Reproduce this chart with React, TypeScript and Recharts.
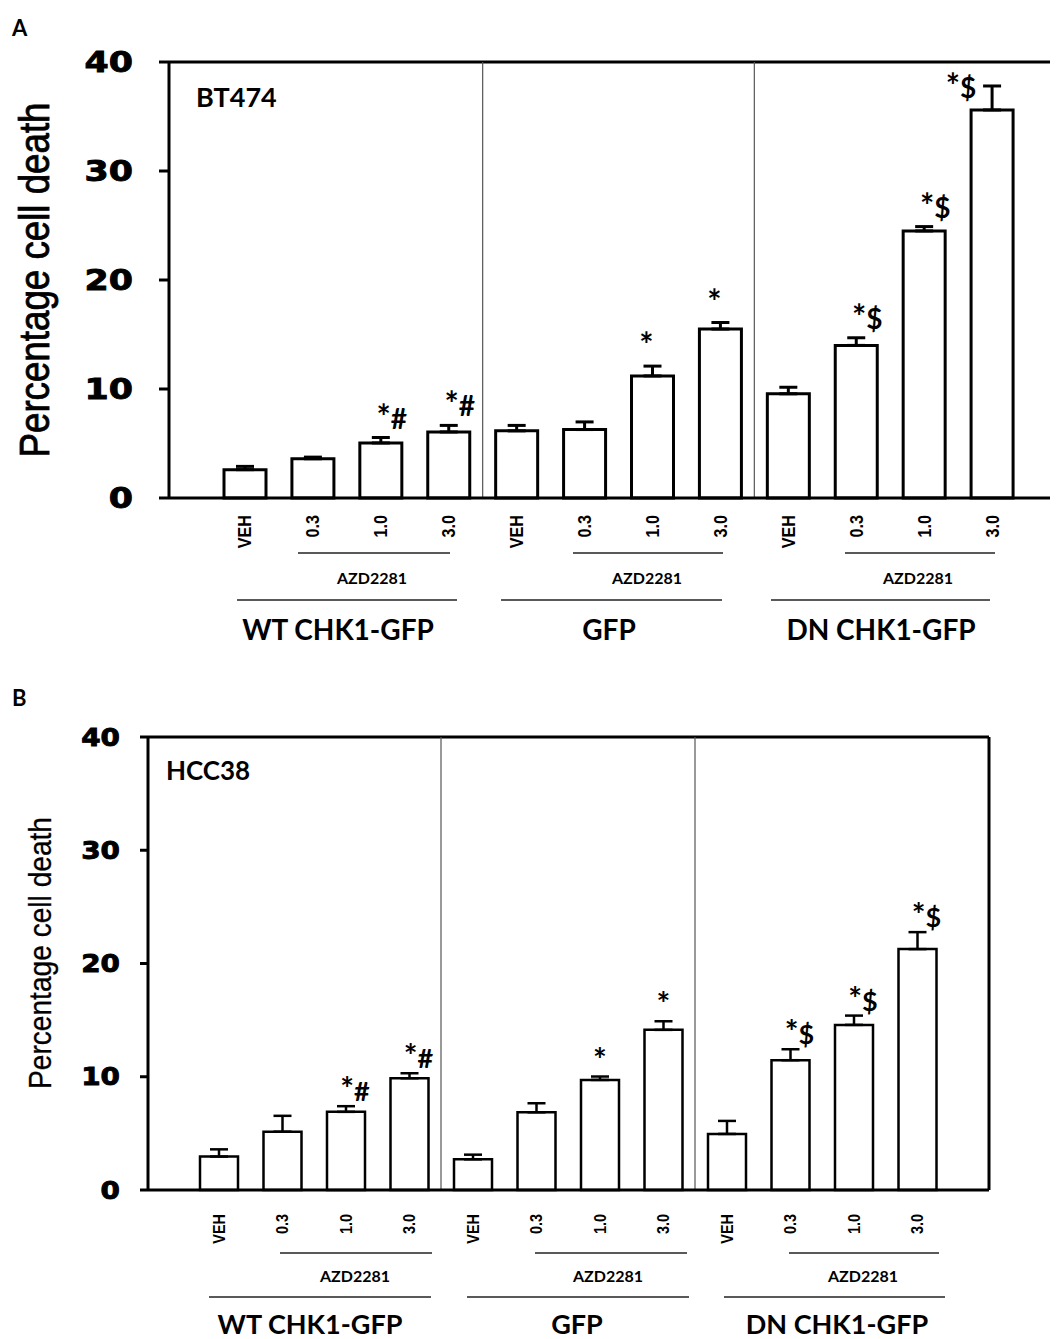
import { BarChart, Bar, XAxis, YAxis, ErrorBar, LabelList, ReferenceLine } from 'recharts'

const categories = ['WT-VEH', 'WT-0.3', 'WT-1.0', 'WT-3.0', 'GFP-VEH', 'GFP-0.3', 'GFP-1.0', 'GFP-3.0', 'DN-VEH', 'DN-0.3', 'DN-1.0', 'DN-3.0']
const doseLabels = ['VEH', '0.3', '1.0', '3.0', 'VEH', '0.3', '1.0', '3.0', 'VEH', '0.3', '1.0', '3.0']
const groupNames = ['WT CHK1-GFP', 'GFP', 'DN CHK1-GFP']
const drugName = 'AZD2281'
const yTicks = [0, 10, 20, 30, 40]

// BT474 (panel A)
const bt474Values = [2.6, 3.6, 5.05, 6.06, 6.16, 6.28, 11.2, 15.5, 9.56, 14.0, 24.5, 35.6]
const bt474Errors = [0.3, 0.15, 0.5, 0.6, 0.5, 0.7, 0.9, 0.6, 0.6, 0.7, 0.4, 2.2]
const bt474Marks = ['', '', '*#', '*#', '', '', '*', '*', '', '*$', '*$', '*$']

// HCC38 (panel B)
const hcc38Values = [2.95, 5.15, 6.9, 9.87, 2.71, 6.86, 9.72, 14.14, 4.95, 11.46, 14.58, 21.27]
const hcc38Errors = [0.64, 1.4, 0.5, 0.44, 0.41, 0.8, 0.3, 0.76, 1.15, 0.97, 0.82, 1.5]
const hcc38Marks = ['', '', '*#', '*#', '', '', '*', '*', '', '*$', '*$', '*$']

const LATO = 'Lato, "Open Sans", sans-serif'
const ARIAL = '"Liberation Sans", Arial, sans-serif'

function makeRows(values: number[], errors: number[], marks: string[]) {
  return categories.map((c, i) => ({
    cat: c,
    value: values[i],
    err: [0, errors[i]],
    errVal: errors[i],
    mark: marks[i],
  }))
}

function Panel({ top, rows, cfg }: any) {
  const DoseTick = (p: any) => {
    const i = categories.indexOf(p.payload.value)
    return (
      <text
        transform={`translate(${p.x},${p.y + cfg.tickGap}) rotate(-90) scale(0.85,1)`}
        textAnchor="end"
        dominantBaseline="central"
        fontFamily={ARIAL}
        fontWeight="bold"
        fontSize={cfg.tickFont}
        fill="#000"
      >
        {doseLabels[i]}
      </text>
    )
  }

  const ValueTick = (p: any) => (
    <text
      transform={`translate(${p.x},${p.y}) scale(${cfg.yScaleX},1)`}
      textAnchor="end"
      dy="0.36em"
      fontFamily='"DejaVu Sans", sans-serif'
      fontWeight="bold"
      fontSize={cfg.yFont}
      fill="#000"
      stroke="#000"
      strokeWidth={0.9}
    >
      {p.payload.value}
    </text>
  )

  const renderMark = (p: any) => {
    const vb = p.viewBox || p
    const idx = p.index
    const row = rows[idx]
    if (!row || !row.mark) return null
    const errPx = (row.errVal * vb.height) / row.value
    const errTop = vb.y - errPx
    let dx = row.mark === '*' ? cfg.starDx : cfg.comboDx
    let by = errTop - cfg.markGap
    if (cfg.sideLabelIndex === idx) {
      dx = -31
      by = errTop + 12
    }
    return (
      <text
        x={vb.x + vb.width / 2 + dx}
        y={by}
        textAnchor="middle"
        fontFamily={LATO}
        fontWeight="bold"
        fontSize={cfg.markFont}
        fill="#000"
      >
        <tspan fontSize={cfg.markFont * 1.2}>*</tspan>
        {row.mark.slice(1)}
      </text>
    )
  }

  return (
    <div style={{ position: 'absolute', left: 0, top }}>
      <BarChart
        width={1050}
        height={cfg.height}
        data={rows}
        margin={{ top: cfg.mTop, right: 0, bottom: 0, left: 0 }}
      >
        <XAxis
          dataKey="cat"
          height={cfg.xH}
          padding={{ left: cfg.padL, right: cfg.padR }}
          axisLine={{ stroke: '#000', strokeWidth: 3 }}
          tickLine={false}
          tickSize={0}
          tickMargin={0}
          interval={0}
          tick={<DoseTick />}
        />
        <YAxis
          domain={[0, 40]}
          ticks={yTicks}
          width={cfg.yW}
          axisLine={{ stroke: '#000', strokeWidth: 3 }}
          tickLine={{ stroke: '#000', strokeWidth: 3 }}
          tickSize={cfg.tickLen}
          tickMargin={cfg.yTickMargin}
          tick={<ValueTick />}
        />
        {cfg.box && (
          <YAxis
            yAxisId="r"
            orientation="right"
            domain={[0, 40]}
            width={cfg.rightW}
            tick={false}
            tickLine={false}
            axisLine={{ stroke: '#000', strokeWidth: 3 }}
          />
        )}
        <ReferenceLine y={40} stroke="#000" strokeWidth={3} />
        <ReferenceLine x="WT-3.0" position="end" stroke="#555" strokeWidth={1.2} />
        <ReferenceLine x="GFP-3.0" position="end" stroke="#555" strokeWidth={1.2} />
        <Bar
          dataKey="value"
          barSize={cfg.barSize}
          fill="#fff"
          stroke="#000"
          strokeWidth={cfg.barStroke}
          isAnimationActive={false}
        >
          <ErrorBar dataKey="err" direction="y" width={9} stroke="#000" strokeWidth={cfg.barStroke} />
          <LabelList dataKey="mark" content={renderMark} />
        </Bar>
      </BarChart>
    </div>
  )
}

const cfgA = {
  height: 560, mTop: 54, xH: 70, yW: 161, padL: 42, padR: 32,
  barSize: 42, barStroke: 3, tickLen: 10, yTickMargin: 26, yFont: 29, yScaleX: 1.2,
  tickFont: 19, tickGap: 17, markFont: 28, markGap: 9, starDx: -6, comboDx: 11,
  sideLabelIndex: 11, box: false, rightW: 0,
}

const cfgB = {
  height: 580, mTop: 49, xH: 78, yW: 140, padL: 39, padR: 40,
  barSize: 38, barStroke: 2.5, tickLen: 8, yTickMargin: 20, yFont: 24, yScaleX: 1.16,
  tickFont: 17, tickGap: 24, markFont: 27, markGap: 5, starDx: 0, comboDx: 9,
  sideLabelIndex: -1, box: true, rightW: 69,
}

function Annotations() {
  const line = { stroke: '#222', strokeWidth: 1.5 }
  const azdA = [[298, 450, 372], [573, 723, 647], [845, 995, 918]]
  const grpA = [[237, 457, 338], [501, 722, 609], [771, 990, 881]]
  const azdB = [[280, 432, 355], [535, 687, 608], [789, 939, 863]]
  const grpB = [[209, 431, 310], [467, 689, 577], [724, 945, 837]]
  return (
    <svg
      width={1058}
      height={1339}
      style={{ position: 'absolute', left: -8, top: -8, pointerEvents: 'none', overflow: 'visible' }}
    >
      <text x={12} y={36} fontFamily={LATO} fontWeight="bold" fontSize={22}>A</text>
      <text x={12} y={706} fontFamily={LATO} fontWeight="bold" fontSize={22}>B</text>
      <text x={196} y={107} fontFamily={LATO} fontWeight="bold" fontSize={27}>BT474</text>
      <text x={166} y={780} fontFamily={LATO} fontWeight="bold" fontSize={26}>HCC38</text>

      <text
        transform="translate(34,280) rotate(-90)"
        textAnchor="middle"
        dominantBaseline="central"
        fontFamily={ARIAL}
        fontSize={42}
        textLength={355}
        lengthAdjust="spacingAndGlyphs"
        stroke="#000"
        strokeWidth={0.8}
      >
        Percentage cell death
      </text>
      <text
        transform="translate(40,953) rotate(-90)"
        textAnchor="middle"
        dominantBaseline="central"
        fontFamily={ARIAL}
        fontSize={31}
        textLength={272}
        lengthAdjust="spacingAndGlyphs"
        stroke="#000"
        strokeWidth={0.3}
      >
        Percentage cell death
      </text>

      {azdA.map(([a, b, c], i) => (
        <g key={'aa' + i}>
          <line x1={a} x2={b} y1={553} y2={553} {...line} />
          <text x={c} y={584} textAnchor="middle" fontFamily={LATO} fontWeight="bold" fontSize={16}>{drugName}</text>
        </g>
      ))}
      {grpA.map(([a, b, c], i) => (
        <g key={'ga' + i}>
          <line x1={a} x2={b} y1={600} y2={600} {...line} />
          <text x={c} y={640} textAnchor="middle" fontFamily={LATO} fontWeight="bold" fontSize={28}>{groupNames[i]}</text>
        </g>
      ))}
      {azdB.map(([a, b, c], i) => (
        <g key={'ab' + i}>
          <line x1={a} x2={b} y1={1253} y2={1253} {...line} />
          <text x={c} y={1282} textAnchor="middle" fontFamily={LATO} fontWeight="bold" fontSize={16}>{drugName}</text>
        </g>
      ))}
      {grpB.map(([a, b, c], i) => (
        <g key={'gb' + i}>
          <line x1={a} x2={b} y1={1297} y2={1297} {...line} />
          <text x={c} y={1334} textAnchor="middle" fontFamily={LATO} fontWeight="bold" fontSize={27}>{groupNames[i]}</text>
        </g>
      ))}
    </svg>
  )
}

export default function App() {
  const rowsA = makeRows(bt474Values, bt474Errors, bt474Marks)
  const rowsB = makeRows(hcc38Values, hcc38Errors, hcc38Marks)
  return (
    <div style={{ position: 'relative', width: 1050, height: 1331, background: '#fff' }}>
      <Panel top={0} rows={rowsA} cfg={cfgA} />
      <Panel top={680} rows={rowsB} cfg={cfgB} />
      <Annotations />
    </div>
  )
}
